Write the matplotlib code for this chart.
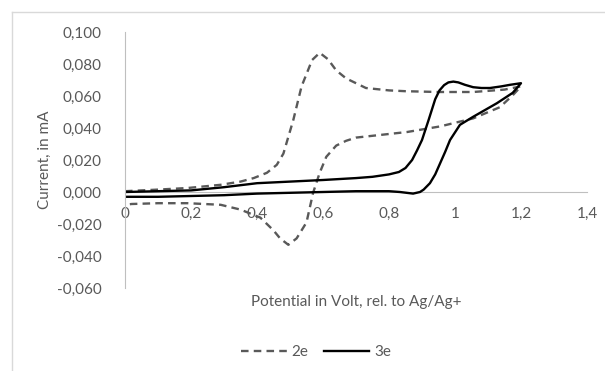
import matplotlib.pyplot as plt
from matplotlib.lines import Line2D

# 2e: dashed loop (forward then reverse sweep)
v_2e = [0, 0.1, 0.19, 0.29, 0.35, 0.39, 0.43, 0.46, 0.48, 0.51, 0.535, 0.567, 0.59,
        0.615, 0.64, 0.67, 0.70, 0.73, 0.8, 0.85, 0.95, 1.055, 1.15, 1.2,
        1.175, 1.136, 1.055, 0.955, 0.855, 0.70, 0.67, 0.64, 0.61, 0.59, 0.57,
        0.55, 0.52, 0.495, 0.47, 0.45, 0.41, 0.35, 0.29, 0.19, 0.1, 0.02, 0]
i_2e = [0.0005, 0.0015, 0.0025, 0.0045, 0.0065, 0.0087, 0.012, 0.017, 0.024, 0.045, 0.066, 0.0825, 0.087,
        0.083, 0.076, 0.071, 0.068, 0.065, 0.0635, 0.063, 0.0625, 0.0625, 0.064, 0.066,
        0.0605, 0.053, 0.046, 0.041, 0.0375, 0.034, 0.032, 0.029, 0.022, 0.012, -0.0005,
        -0.019, -0.029, -0.033, -0.029, -0.024, -0.016, -0.011, -0.008, -0.007, -0.007, -0.0075, -0.008]

# 3e: solid loop
v_3e = [0, 0.1, 0.2, 0.3, 0.4, 0.5, 0.6, 0.7, 0.75, 0.8, 0.83, 0.85, 0.87, 0.885, 0.90,
        0.92, 0.94, 0.953, 0.967, 0.98, 0.995, 1.01, 1.03, 1.055, 1.08, 1.106, 1.14, 1.167, 1.2,
        1.175, 1.127, 1.055, 1.015, 0.985, 0.97, 0.955, 0.94, 0.924, 0.905, 0.894,
        0.873, 0.833, 0.8, 0.7, 0.6, 0.5, 0.4, 0.3, 0.2, 0.1, 0]
i_3e = [0.0, 0.0005, 0.001, 0.003, 0.0055, 0.0065, 0.0075, 0.0087, 0.0095, 0.011, 0.0125, 0.015, 0.02, 0.026, 0.0325,
        0.045, 0.058, 0.0635, 0.0668, 0.0685, 0.069, 0.0685, 0.067, 0.0655, 0.065, 0.065, 0.066, 0.067, 0.068,
        0.062, 0.0555, 0.047, 0.042, 0.0325, 0.025, 0.018, 0.011, 0.0055, 0.0015, 0.0,
        -0.001, 0.0, 0.0005, 0.0005, 0.0, -0.0005, -0.001, -0.002, -0.0025, -0.003, -0.003]

x_ticks = [0, 0.2, 0.4, 0.6, 0.8, 1.0, 1.2, 1.4]
x_labels = ["0", "0,2", "0,4", "0,6", "0,8", "1", "1,2", "1,4"]
y_ticks = [-0.06, -0.04, -0.02, 0.0, 0.02, 0.04, 0.06, 0.08, 0.1]
y_labels = ["-0,060", "-0,040", "-0,020", "0,000", "0,020", "0,040", "0,060", "0,080", "0,100"]

plt.rcParams['font.family'] = ['Lato', 'DejaVu Sans']
txt = '#595959'
fs = 11

fig = plt.figure(figsize=(6.05, 3.71), dpi=100)
ax = fig.add_axes([125 / 605, 83 / 371, 462 / 605, 256 / 371])

ax.plot(v_2e, i_2e, color='#595959', lw=1.7, dashes=(3.2, 2.2), label='2e', solid_joinstyle='round')
ax.plot(v_3e, i_3e, color='black', lw=1.7, label='3e', solid_joinstyle='round')

ax.set_xlim(0, 1.4)
ax.set_ylim(-0.06, 0.1)
ax.set_xticks(x_ticks)
ax.set_xticklabels(x_labels)
ax.set_yticks(y_ticks)
ax.set_yticklabels(y_labels)

for s in ['top', 'right']:
    ax.spines[s].set_visible(False)
ax.spines['bottom'].set_position(('data', 0))
ax.spines['bottom'].set_color('#bfbfbf')
ax.spines['left'].set_color('#bfbfbf')
ax.spines['bottom'].set_zorder(0)
ax.tick_params(length=0, labelsize=fs, labelcolor=txt)
ax.tick_params(axis='x', pad=11)
ax.tick_params(axis='y', pad=17)

fig.text(45 / 605, 1 - 160 / 371, "Current, in mA", rotation=90, ha='center', va='center',
         color=txt, fontsize=fs)
fig.text(356 / 605, 1 - 302 / 371, "Potential in Volt, rel. to Ag/Ag+", ha='center', va='center',
         color=txt, fontsize=fs)

leg = fig.legend(loc='center', bbox_to_anchor=(316 / 605, 1 - 352 / 371), ncol=2, frameon=False,
                 fontsize=fs, handlelength=3.0, columnspacing=1.0, handletextpad=0.3)
for t in leg.get_texts():
    t.set_color(txt)

# outer chart border
fig.add_artist(Line2D([12 / 605, 12 / 605], [0, 1 - 12 / 371], transform=fig.transFigure,
                      color='#d9d9d9', lw=1))
fig.add_artist(Line2D([12 / 605, 1], [1 - 12 / 371, 1 - 12 / 371], transform=fig.transFigure,
                      color='#d9d9d9', lw=1))

fig.savefig('out.png', dpi=100)
